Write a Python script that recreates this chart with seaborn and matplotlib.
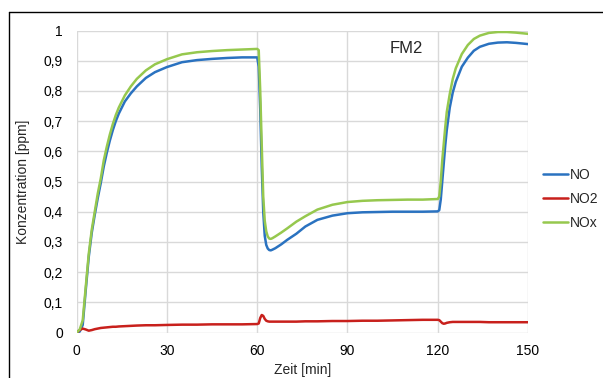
import matplotlib
matplotlib.use("Agg")
import matplotlib.pyplot as plt
import seaborn as sns
import pandas as pd
from matplotlib.lines import Line2D

# ---- data ----
zeit = [0, 1, 2, 3, 4, 5, 6, 7, 8, 9, 10, 11, 12, 13, 14, 16, 18, 20, 23, 26, 30, 35, 40, 45,
        50, 55, 60, 60.5, 61, 61.5, 62, 62.5, 63, 63.5, 64, 64.5, 65, 66, 68, 70, 73, 76, 80,
        85, 90, 95, 100, 105, 110, 115, 120, 120.5, 121, 121.5, 122, 122.5, 123, 124, 125,
        126, 128, 130, 132, 134, 137, 140, 143, 146, 150]

no = [0.0, 0.003, 0.025, 0.14, 0.25, 0.33, 0.39, 0.445, 0.495, 0.55, 0.595, 0.635, 0.67,
      0.70, 0.725, 0.765, 0.792, 0.815, 0.843, 0.862, 0.879, 0.895, 0.902, 0.906, 0.909,
      0.911, 0.911, 0.88, 0.74, 0.55, 0.40, 0.32, 0.29, 0.278, 0.273, 0.272, 0.274, 0.279,
      0.292, 0.307, 0.327, 0.351, 0.373, 0.387, 0.395, 0.398, 0.399, 0.400, 0.400, 0.400,
      0.401, 0.405, 0.44, 0.50, 0.56, 0.62, 0.67, 0.745, 0.795, 0.83, 0.88, 0.91, 0.933,
      0.946, 0.956, 0.960, 0.961, 0.959, 0.955]

no2 = [0.0, 0.008, 0.013, 0.010, 0.006, 0.008, 0.011, 0.013, 0.015, 0.016, 0.017, 0.018,
       0.019, 0.019, 0.020, 0.021, 0.022, 0.023, 0.024, 0.024, 0.025, 0.026, 0.026, 0.027,
       0.027, 0.027, 0.028, 0.030, 0.048, 0.058, 0.055, 0.045, 0.039, 0.037, 0.036, 0.036,
       0.036, 0.036, 0.036, 0.036, 0.036, 0.037, 0.037, 0.038, 0.038, 0.039, 0.039, 0.040,
       0.041, 0.042, 0.042, 0.041, 0.036, 0.031, 0.029, 0.030, 0.032, 0.034, 0.035, 0.035,
       0.035, 0.035, 0.035, 0.035, 0.034, 0.034, 0.034, 0.034, 0.034]

nox = [0.0, 0.01, 0.04, 0.15, 0.26, 0.34, 0.40, 0.46, 0.51, 0.57, 0.615, 0.655, 0.69, 0.72,
       0.745, 0.785, 0.815, 0.84, 0.868, 0.888, 0.905, 0.921, 0.928, 0.932, 0.935, 0.937,
       0.939, 0.935, 0.80, 0.62, 0.45, 0.37, 0.335, 0.318, 0.311, 0.310, 0.312, 0.318,
       0.331, 0.345, 0.367, 0.385, 0.407, 0.423, 0.432, 0.436, 0.438, 0.439, 0.440, 0.440,
       0.442, 0.45, 0.50, 0.57, 0.625, 0.68, 0.73, 0.79, 0.84, 0.875, 0.922, 0.952, 0.972,
       0.983, 0.992, 0.995, 0.995, 0.993, 0.989]

series = ["NO", "NO2", "NOx"]
colors = ["#2a72c0", "#c8201c", "#96c84e"]
x_ticks = [0, 30, 60, 90, 120, 150]
y_ticks = [0, 0.1, 0.2, 0.3, 0.4, 0.5, 0.6, 0.7, 0.8, 0.9, 1.0]
y_labels = ["0", "0,1", "0,2", "0,3", "0,4", "0,5", "0,6", "0,7", "0,8", "0,9", "1"]

df = pd.concat([
    pd.DataFrame({"Zeit": zeit, "Wert": no, "Serie": "NO"}),
    pd.DataFrame({"Zeit": zeit, "Wert": no2, "Serie": "NO2"}),
    pd.DataFrame({"Zeit": zeit, "Wert": nox, "Serie": "NOx"}),
])

sns.set_theme(style="white")
plt.rcParams["font.family"] = ["Liberation Sans", "DejaVu Sans"]

fig = plt.figure(figsize=(6.03, 3.78), dpi=100)
ax = fig.add_axes([76.7 / 603, 1 - 332.5 / 378, (528 - 76.7) / 603, (332.5 - 30.5) / 378])

sns.lineplot(data=df, x="Zeit", y="Wert", hue="Serie", hue_order=series,
             palette=dict(zip(series, colors)), linewidth=1.8, ax=ax, legend=False,
             zorder=3)

ax.set_xlim(0, 150)
ax.set_ylim(0, 1)
ax.set_xticks(x_ticks)
ax.set_xticklabels([str(v) for v in x_ticks])
ax.set_yticks(y_ticks)
ax.set_yticklabels(y_labels)
ax.tick_params(axis="both", length=0, labelsize=10, colors="#000000")
ax.tick_params(axis="y", pad=10)
ax.tick_params(axis="x", pad=8)
ax.grid(True, color="#d9d9d9", linewidth=1.0)
for s in ax.spines.values():
    s.set_visible(False)
ax.set_axisbelow(True)

ax.set_xlabel("Zeit [min]", fontsize=10, labelpad=4)
ax.set_ylabel("Konzentration [ppm]", fontsize=10, labelpad=10)

ax.text(109.5, 0.94, "FM2", fontsize=12, ha="center", va="center")

handles = [Line2D([0], [0], color=c, lw=1.8) for c in colors]
fig.legend(handles, series, loc="center left", bbox_to_anchor=(543 / 603, 1 - 199 / 378),
           frameon=False, fontsize=10, handlelength=1.8, handletextpad=0.15,
           labelspacing=0.7, borderpad=0, borderaxespad=0)

# outer frame (left and top edges visible)
fig.add_artist(Line2D([9 / 603, 9 / 603], [0, 1 - 12 / 378], color="black", lw=1.0,
                      transform=fig.transFigure))
fig.add_artist(Line2D([9 / 603, 1], [1 - 12 / 378, 1 - 12 / 378], color="black", lw=1.0,
                      transform=fig.transFigure))

fig.savefig("out.png", dpi=100)
